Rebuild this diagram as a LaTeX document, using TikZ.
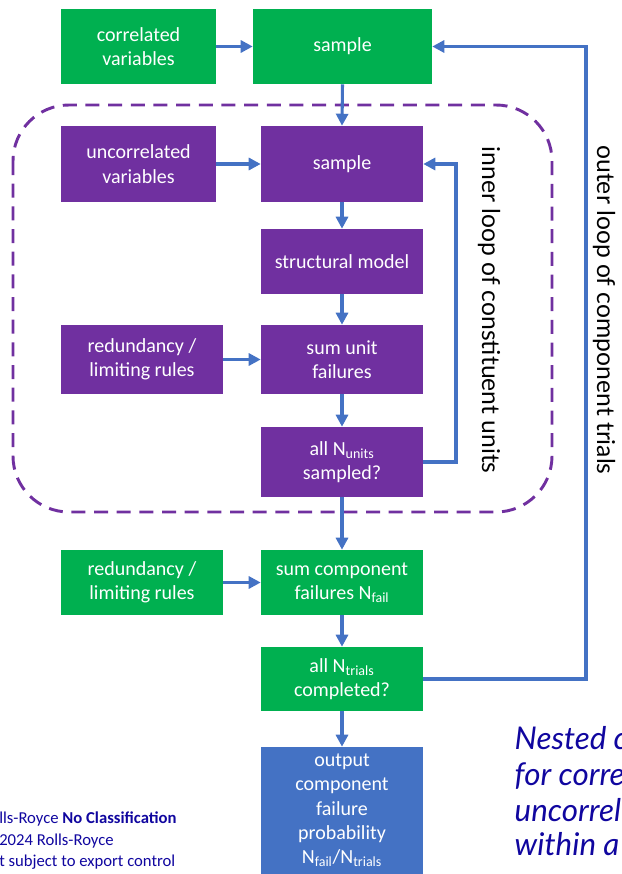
\documentclass[tikz,border=0pt]{standalone}
\usepackage{
	fontspec,			% Fonts
	tikz,
	xcolor
}
\usetikzlibrary{arrows.meta}
\setmainfont{Carlito}
\newfontfamily\looplabelfont{Lato}
\definecolor{rrgreen}{HTML}{00B050}
\definecolor{rrpurple}{HTML}{7030A0}
\definecolor{rrblue}{HTML}{4472C4}
\definecolor{rrnavy}{HTML}{10069F}

\begin{document}
\begin{tikzpicture}[x=0.75pt,y=-0.75pt,
		box/.style={fill=#1,text=white,inner sep=0pt,align=center,font=\fontsize{15}{18.2}\selectfont},
		arr/.style={draw=rrblue,line width=2.3pt,-{Triangle[length=9pt,width=9pt]}},
		looptext/.style={rotate=-90,font=\looplabelfont\fontsize{18.5}{22}\selectfont},
		notetext/.style={anchor=base west,text=rrnavy,font=\looplabelfont\itshape\fontsize{23.5}{27}\selectfont},
		foottext/.style={anchor=base west,inner sep=0pt,text=rrnavy,font=\fontsize{12.5}{15}\selectfont}]
		\useasboundingbox (0,0) rectangle (621,874);
		\clip (0,0) rectangle (621,874);
		% inner loop frame
		\draw[rrpurple,line width=2.2pt,dash pattern=on 10.5pt off 6.5pt,rounded corners=42pt] (13,105) rectangle (552,512);
		% boxes
		\node[box=rrgreen,minimum width=116.25pt,minimum height=56.25pt] (corr) at (138.5,46.5) {correlated\\variables};
		\node[box=rrgreen,minimum width=134.25pt,minimum height=56.25pt] (outersample) at (342.5,46.5) {sample};
		\node[box=rrpurple,minimum width=116.25pt,minimum height=57pt] (uncorr) at (138.5,164) {uncorrelated\\variables};
		\node[box=rrpurple,minimum width=121.5pt,minimum height=57pt] (innersample) at (342,164) {sample};
		\node[box=rrpurple,minimum width=121.5pt,minimum height=48.75pt] (struct) at (342,261.5) {structural model};
		\node[box=rrpurple,minimum width=121.5pt,minimum height=51.75pt] (unitrules) at (142,359.5) {redundancy /\\limiting rules};
		\node[box=rrpurple,minimum width=121.5pt,minimum height=51.75pt] (sumunit) at (342,359.5) {sum unit\\failures};
		\node[box=rrpurple,minimum width=121.5pt,minimum height=52.5pt] (allunits) at (342,462) {all N\textsubscript{units}\\sampled?};
		\node[box=rrgreen,minimum width=121.5pt,minimum height=48.75pt] (comprules) at (142,582.5) {redundancy /\\limiting rules};
		\node[box=rrgreen,minimum width=121.5pt,minimum height=48.75pt] (sumcomp) at (342,582.5) {sum component\\failures N\textsubscript{fail}};
		\node[box=rrgreen,minimum width=121.5pt,minimum height=48pt] (alltrials) at (342,679) {all N\textsubscript{trials}\\completed?};
		\node[box=rrblue,minimum width=121.5pt,minimum height=95.25pt] (output) at (342,810.5) {output\\component\\failure\\probability\\N\textsubscript{fail}/N\textsubscript{trials}};
		% connectors
		\coordinate (innerx) at (456,0);
		\coordinate (outerx) at (586,0);
		\draw[arr] (corr.east) -- (outersample.west);
		\draw[arr] (outersample.south) -- (innersample.north);
		\draw[arr] (uncorr.east) -- (innersample.west);
		\draw[arr] (innersample) -- (struct);
		\draw[arr] (struct) -- (sumunit);
		\draw[arr] (unitrules.east) -- (sumunit.west);
		\draw[arr] (sumunit) -- (allunits);
		\draw[arr] (allunits.east) -- (allunits.east -| innerx) |- (innersample.east);
		\draw[arr] (allunits) -- (sumcomp);
		\draw[arr] (comprules.east) -- (sumcomp.west);
		\draw[arr] (sumcomp) -- (alltrials);
		\draw[arr] (alltrials.east) -- (alltrials.east -| outerx) |- (outersample.east);
		\draw[arr] (alltrials) -- (output);
		% loop labels
		\node[looptext] (innerlabel) at (489,310) {inner loop of constituent units};
		\node[looptext] (outerlabel) at (604,310) {outer loop of component trials};
		% side note
		\node[notetext] (note1) at (510,749) {Nested c};
		\node[notetext] (note2) at (510,785) {for corre};
		\node[notetext] (note3) at (510,821) {uncorrel};
		\node[notetext] (note4) at (510,855) {within a};
		% footer
		\node[foottext] (foot1) at (-1,823) {lls-Royce \textbf{No Classification}};
		\node[foottext] (foot2) at (-1,845) {2024 Rolls-Royce};
		\node[foottext] (foot3) at (-1,866) {t subject to export control};
	\end{tikzpicture}
\end{document}
